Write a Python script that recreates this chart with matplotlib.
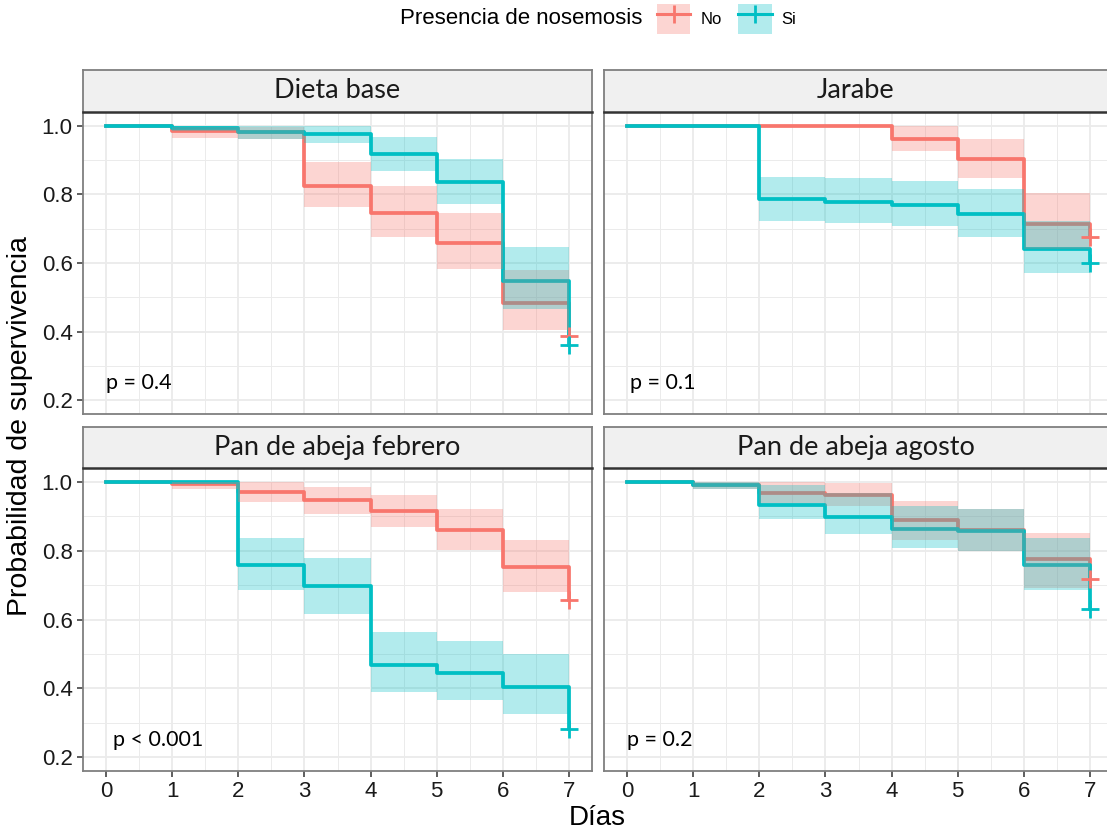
import matplotlib
matplotlib.use("Agg")
import matplotlib.pyplot as plt
from matplotlib.patches import Patch
from matplotlib.lines import Line2D
from matplotlib.ticker import MultipleLocator

# datos (Kaplan-Meier por dia)
dias = [0, 1, 2, 3, 4, 5, 6, 7]

paneles = ["Dieta base", "Jarabe", "Pan de abeja febrero", "Pan de abeja agosto"]
pvalores = ["p = 0.4", "p = 0.1", "p < 0.001", "p = 0.2"]

# Dieta base
base_no = [1.0, 0.984, 0.982, 0.825, 0.745, 0.658, 0.484, 0.387]
base_no_sup = [1.0, 0.996, 0.995, 0.893, 0.825, 0.745, 0.581, 0.581]
base_no_inf = [1.0, 0.963, 0.960, 0.762, 0.675, 0.583, 0.404, 0.404]
base_si = [1.0, 0.992, 0.983, 0.975, 0.918, 0.836, 0.549, 0.360]
base_si_sup = [1.0, 1.0, 1.0, 1.0, 0.968, 0.903, 0.646, 0.646]
base_si_inf = [1.0, 0.985, 0.961, 0.949, 0.869, 0.772, 0.467, 0.467]

# Jarabe
jar_no = [1.0, 1.0, 1.0, 1.0, 0.960, 0.904, 0.713, 0.675]
jar_no_sup = [1.0, 1.0, 1.0, 1.0, 1.0, 0.961, 0.803, 0.803]
jar_no_inf = [1.0, 1.0, 1.0, 1.0, 0.926, 0.849, 0.642, 0.642]
jar_si = [1.0, 1.0, 0.786, 0.778, 0.770, 0.743, 0.642, 0.600]
jar_si_sup = [1.0, 1.0, 0.852, 0.847, 0.840, 0.816, 0.721, 0.721]
jar_si_inf = [1.0, 1.0, 0.723, 0.716, 0.707, 0.677, 0.571, 0.571]

# Pan de abeja febrero
feb_no = [1.0, 0.994, 0.970, 0.947, 0.916, 0.860, 0.752, 0.658]
feb_no_sup = [1.0, 1.0, 1.0, 0.986, 0.963, 0.922, 0.830, 0.830]
feb_no_inf = [1.0, 0.980, 0.941, 0.907, 0.868, 0.801, 0.681, 0.681]
feb_si = [1.0, 1.0, 0.757, 0.696, 0.469, 0.445, 0.403, 0.283]
feb_si_sup = [1.0, 1.0, 0.836, 0.778, 0.563, 0.539, 0.499, 0.499]
feb_si_inf = [1.0, 1.0, 0.687, 0.617, 0.389, 0.365, 0.326, 0.326]

# Pan de abeja agosto
ago_no = [1.0, 0.991, 0.968, 0.961, 0.888, 0.859, 0.776, 0.719]
ago_no_sup = [1.0, 1.0, 1.0, 0.995, 0.944, 0.922, 0.852, 0.852]
ago_no_inf = [1.0, 0.978, 0.939, 0.929, 0.832, 0.799, 0.692, 0.692]
ago_si = [1.0, 0.991, 0.932, 0.899, 0.864, 0.857, 0.757, 0.631]
ago_si_sup = [1.0, 1.0, 0.992, 0.968, 0.929, 0.922, 0.838, 0.838]
ago_si_inf = [1.0, 0.980, 0.891, 0.849, 0.808, 0.799, 0.687, 0.687]

datos = [
    (base_no, base_no_sup, base_no_inf, base_si, base_si_sup, base_si_inf),
    (jar_no, jar_no_sup, jar_no_inf, jar_si, jar_si_sup, jar_si_inf),
    (feb_no, feb_no_sup, feb_no_inf, feb_si, feb_si_sup, feb_si_inf),
    (ago_no, ago_no_sup, ago_no_inf, ago_si, ago_si_sup, ago_si_inf),
]

rojo = "#F8766D"
azul = "#00BFC4"
borde = "#7F7F7F"
fuente_ticks = "Liberation Sans"
fuente_cal = "Lato"

fig = plt.figure(figsize=(11.07, 8.3), dpi=100)
W, H = 1107.0, 830.0

# posiciones en pixeles (izq, arriba, ancho, alto)
cajas = [(83, 112, 509, 302), (604, 112, 509, 302),
         (83, 468, 509, 303), (604, 468, 509, 303)]
tiras = [(83, 70, 509, 42), (604, 70, 509, 42),
         (83, 427, 509, 41), (604, 427, 509, 41)]
p_x = [0.0, 0.05, 0.1, 0.0]

for i in range(4):
    x0, y0, w, h = cajas[i]
    ax = fig.add_axes([x0 / W, 1 - (y0 + h) / H, w / W, h / H])
    no, no_s, no_i, si, si_s, si_i = datos[i]

    ax.step(dias, no, where="post", color=rojo, lw=2.7, zorder=3)
    ax.step(dias, si, where="post", color=azul, lw=2.7, zorder=3)
    ax.fill_between(dias, no_i, no_s, step="post", color=rojo, alpha=0.3, lw=0, zorder=4)
    ax.fill_between(dias, si_i, si_s, step="post", color=azul, alpha=0.3, lw=0, zorder=4)
    ax.plot([dias[-1]], [no[-1]], marker="+", ms=13, mew=2, color=rojo, zorder=5)
    ax.plot([dias[-1]], [si[-1]], marker="+", ms=13, mew=2, color=azul, zorder=5)

    ax.text(p_x[i], 0.25, pvalores[i], fontsize=15.5, family=fuente_cal,
            ha="left", va="center", color="black")

    ax.set_xlim(-0.35, 7.35)
    ax.set_ylim(0.16, 1.04)
    ax.xaxis.set_major_locator(MultipleLocator(1))
    ax.xaxis.set_minor_locator(MultipleLocator(0.5))
    ax.yaxis.set_major_locator(MultipleLocator(0.2))
    ax.yaxis.set_minor_locator(MultipleLocator(0.1))
    ax.grid(which="major", color="#EBEBEB", lw=1.3, zorder=0)
    ax.grid(which="minor", color="#EBEBEB", lw=0.7, zorder=0)
    ax.set_axisbelow(True)
    ax.tick_params(which="minor", length=0)
    ax.tick_params(which="major", length=4, width=1.1, color="#333333",
                   labelsize=16, labelcolor="#1A1A1A")
    for lab in ax.get_xticklabels() + ax.get_yticklabels():
        lab.set_family(fuente_ticks)
    ax.yaxis.set_major_formatter(matplotlib.ticker.FormatStrFormatter("%.1f"))
    if i % 2 == 1:
        ax.tick_params(axis="y", labelleft=False, length=0)
    if i < 2:
        ax.tick_params(axis="x", labelbottom=False, length=0)
    for s in ax.spines.values():
        s.set_color(borde)
        s.set_linewidth(1.3)

    # tira con el titulo del panel
    tx, ty, tw, th = tiras[i]
    st = fig.add_axes([tx / W, 1 - (ty + th) / H, tw / W, th / H])
    st.set_facecolor("#F0F0F0")
    st.set_xticks([])
    st.set_yticks([])
    for s in st.spines.values():
        s.set_color(borde)
        s.set_linewidth(1.3)
    st.spines["bottom"].set_color("#333333")
    st.spines["bottom"].set_linewidth(1.8)
    st.text(0.5 if i % 2 == 0 else 0.5 * 503 / tw, 0.5, paneles[i],
            transform=st.transAxes, ha="center", va="center",
            fontsize=19.5, family=fuente_cal, color="#1A1A1A")

fig.text(20 / W, 1 - 426 / H, "Probabilidad de supervivencia", rotation=90,
         ha="center", va="center", fontsize=20.5, family=fuente_ticks)
fig.text(597 / W, 1 - 818 / H, "Días", ha="center", va="center",
         fontsize=20, family=fuente_ticks)

# leyenda
fig.text(400 / W, 1 - 19 / H, "Presencia de nosemosis", ha="left", va="center",
         fontsize=16, family=fuente_ticks)
handles = []
for c in [rojo, azul]:
    handles.append((Patch(facecolor=c, alpha=0.3, edgecolor="none"),
                    Line2D([], [], color=c, lw=2.2, marker="+", ms=13, mew=2)))
fig.legend(handles, ["No", "Si"], ncol=2, frameon=False,
           loc="center left", bbox_to_anchor=(642 / W, 1 - 19 / H),
           handlelength=2.0, handleheight=2.4, handletextpad=0.6,
           columnspacing=1.0, prop={"family": fuente_ticks, "size": 12})

plt.savefig("out.png", dpi=100)
